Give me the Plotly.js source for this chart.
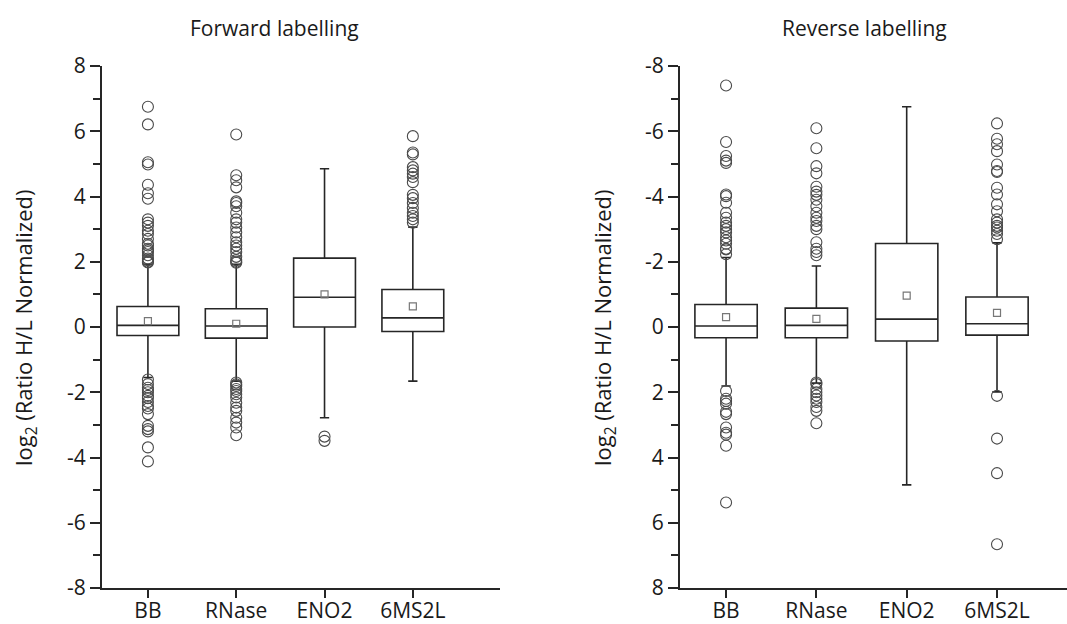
<!DOCTYPE html>
<html>
<head>
<meta charset="utf-8">
<script src="https://cdn.plot.ly/plotly-3.0.1.min.js"></script>
<style>html,body{margin:0;padding:0;background:#fff;}#chart{width:1067px;height:624px;}</style>
</head>
<body>
<div id="chart"></div>
<script>
const categories = ['BB', 'RNase', 'ENO2', '6MS2L'];
const yTickVals = [-8, -6, -4, -2, 0, 2, 4, 6, 8];
const yTickText = ['-8', '-6', '-4', '-2', '0', '2', '4', '6', '8'];

// Forward labelling
const fwdQ1 = [-0.26, -0.34, 0.0, -0.14];
const fwdMedian = [0.05, 0.03, 0.91, 0.28];
const fwdQ3 = [0.63, 0.56, 2.11, 1.15];
const fwdLowerWhisker = [-1.55, -1.66, -2.78, -1.66];
const fwdUpperWhisker = [1.92, 1.92, 4.85, 3.06];
const fwdMean = [0.18, 0.10, 1.0, 0.63];
const fwdOutBB = [6.75, 6.21, 5.05, 4.98, 4.36, 4.1, 3.93, 3.3, 3.2, 3.1, 2.95, 2.85, 2.7, 2.55, 2.5, 2.4, 2.35, 2.3, 2.2, 2.1, 2.05, 2.0, 1.98,
  -1.61, -1.75, -1.86, -1.93, -2.0, -2.11, -2.18, -2.3, -2.42, -2.5, -2.67, -3.03, -3.13, -3.2, -3.69, -4.12];
const fwdOutRNase = [5.9, 4.65, 4.5, 4.28, 3.85, 3.8, 3.7, 3.5, 3.3, 3.2, 3.05, 2.9, 2.75, 2.6, 2.5, 2.4, 2.3, 2.15, 2.05, 2.0, 1.97,
  -1.7, -1.76, -1.81, -1.9, -1.96, -2.06, -2.16, -2.32, -2.47, -2.57, -2.78, -2.93, -3.08, -3.32];
const fwdOutENO2 = [-3.36, -3.49];
const fwdOut6MS2L = [5.85, 5.35, 5.29, 4.9, 4.8, 4.7, 4.6, 4.44, 4.05, 3.95, 3.8, 3.65, 3.5, 3.4, 3.3, 3.2];

// Reverse labelling
const revQ1 = [-0.69, -0.58, -2.56, -0.92];
const revMedian = [-0.03, -0.05, -0.24, -0.10];
const revQ3 = [0.33, 0.33, 0.43, 0.25];
const revLowerWhisker = [-2.13, -1.87, -6.75, -2.58];
const revUpperWhisker = [1.81, 1.72, 4.84, 1.99];
const revMean = [-0.30, -0.25, -0.96, -0.43];
const revOutBB = [-7.4, -5.67, -5.24, -5.1, -5.03, -4.06, -4.01, -3.81, -3.5, -3.35, -3.2, -3.1, -3.0, -2.9, -2.75, -2.65, -2.55, -2.4, -2.38, -2.23,
  1.96, 2.2, 2.27, 2.35, 2.6, 2.67, 3.08, 3.24, 3.3, 3.64, 5.38];
const revOutRNase = [-6.09, -5.48, -4.93, -4.71, -4.3, -4.15, -4.05, -3.9, -3.7, -3.5, -3.35, -3.25, -3.1, -3.0, -2.6, -2.4, -2.3, -2.2,
  1.7, 1.75, 1.9, 2.0, 2.1, 2.2, 2.3, 2.45, 2.57, 2.95];
const revOutENO2 = [];
const revOut6MS2L = [-6.24, -5.77, -5.6, -5.39, -4.98, -4.78, -4.75, -4.27, -4.06, -3.76, -3.55, -3.3, -3.2, -3.1, -3.05, -2.95, -2.85, -2.69,
  2.11, 3.42, 4.48, 6.66];

const titles = ['Forward labelling', 'Reverse labelling'];
const yTitle = 'log<sub>2</sub> (Ratio H/L Normalized)';

const LINE = '#262626';
const FONT = '"Open Sans", sans-serif';

function boxTrace(q1, med, q3, lo, hi, xa, ya, w) {
  return {
    type: 'box', x: categories, q1: q1, median: med, q3: q3,
    lowerfence: lo, upperfence: hi,
    xaxis: xa, yaxis: ya, width: w, whiskerwidth: 0.15,
    fillcolor: 'rgba(255,255,255,0)',
    line: {color: LINE, width: 1.6},
    boxpoints: false, showlegend: false, hoverinfo: 'skip'
  };
}
function outlierTrace(groups, xa, ya) {
  const xs = [], ys = [];
  groups.forEach((g, i) => g.forEach(v => { xs.push(categories[i]); ys.push(v); }));
  return {
    type: 'scatter', mode: 'markers', x: xs, y: ys, xaxis: xa, yaxis: ya,
    marker: {symbol: 'circle-open', size: 11, color: '#4a4a4a', line: {width: 1.1}},
    showlegend: false, hoverinfo: 'skip'
  };
}
function meanTrace(mean, xa, ya) {
  return {
    type: 'scatter', mode: 'markers', x: categories, y: mean, xaxis: xa, yaxis: ya,
    marker: {symbol: 'square-open', size: 7, color: '#777', line: {width: 1.2}},
    showlegend: false, hoverinfo: 'skip'
  };
}

const data = [
  boxTrace(fwdQ1, fwdMedian, fwdQ3, fwdLowerWhisker, fwdUpperWhisker, 'x', 'y', 0.70),
  outlierTrace([fwdOutBB, fwdOutRNase, fwdOutENO2, fwdOut6MS2L], 'x', 'y'),
  meanTrace(fwdMean, 'x', 'y'),
  boxTrace(revQ1, revMedian, revQ3, revLowerWhisker, revUpperWhisker, 'x2', 'y2', 0.69),
  outlierTrace([revOutBB, revOutRNase, revOutENO2, revOut6MS2L], 'x2', 'y2'),
  meanTrace(revMean, 'x2', 'y2')
];

const W = 1067, H = 624;
function xAxis(d0, d1, range, anchor) {
  return {
    domain: [d0 / W, d1 / W], anchor: anchor, type: 'category',
    categoryorder: 'array', categoryarray: categories, range: range,
    showline: true, linecolor: LINE, linewidth: 2, mirror: false,
    ticks: 'outside', ticklen: 8, tickwidth: 2, tickcolor: LINE,
    ticklabelstandoff: -5,
    showgrid: false, zeroline: false,
    tickfont: {family: FONT, size: 21, color: '#1a1a1a'}
  };
}
function yAxis(range, anchor) {
  return {
    domain: [1 - 588 / H, 1 - 66 / H], anchor: anchor, range: range,
    tickmode: 'array', tickvals: yTickVals, ticktext: yTickText,
    showline: true, linecolor: LINE, linewidth: 2,
    ticks: 'outside', ticklen: 10, tickwidth: 2, tickcolor: LINE,
    minor: {tickmode: 'array', tickvals: [-7, -5, -3, -1, 1, 3, 5, 7], ticks: 'outside', ticklen: 7, tickwidth: 2, tickcolor: LINE, showgrid: false},
    showgrid: false, zeroline: false,
    tickfont: {family: FONT, size: 21, color: '#1a1a1a'}
  };
}

const layout = {
  width: W, height: H,
  margin: {l: 0, r: 0, t: 0, b: 0},
  paper_bgcolor: '#fff', plot_bgcolor: '#fff',
  showlegend: false,
  xaxis: xAxis(102, 500, [-0.52, 3.987], 'y'),
  yaxis: yAxis([-8, 8], 'x'),
  xaxis2: xAxis(680, 1067, [-0.51, 3.775], 'y2'),
  yaxis2: yAxis([8, -8], 'x2'),
  annotations: [
    {text: titles[0], xref: 'paper', yref: 'paper', x: 274 / W, y: 1 - 28 / H, showarrow: false,
      xanchor: 'center', yanchor: 'middle', font: {family: FONT, size: 21, color: '#1a1a1a'}},
    {text: titles[1], xref: 'paper', yref: 'paper', x: 864 / W, y: 1 - 28 / H, showarrow: false,
      xanchor: 'center', yanchor: 'middle', font: {family: FONT, size: 21, color: '#1a1a1a'}},
    {text: yTitle, xref: 'paper', yref: 'paper', x: 25 / W, y: 1 - 328 / H, showarrow: false, textangle: -90,
      xanchor: 'center', yanchor: 'middle', font: {family: FONT, size: 22, color: '#1a1a1a'}},
    {text: yTitle, xref: 'paper', yref: 'paper', x: 604 / W, y: 1 - 328 / H, showarrow: false, textangle: -90,
      xanchor: 'center', yanchor: 'middle', font: {family: FONT, size: 22, color: '#1a1a1a'}}
  ]
};

Plotly.newPlot('chart', data, layout, {staticPlot: true, displayModeBar: false});
</script>
</body>
</html>
